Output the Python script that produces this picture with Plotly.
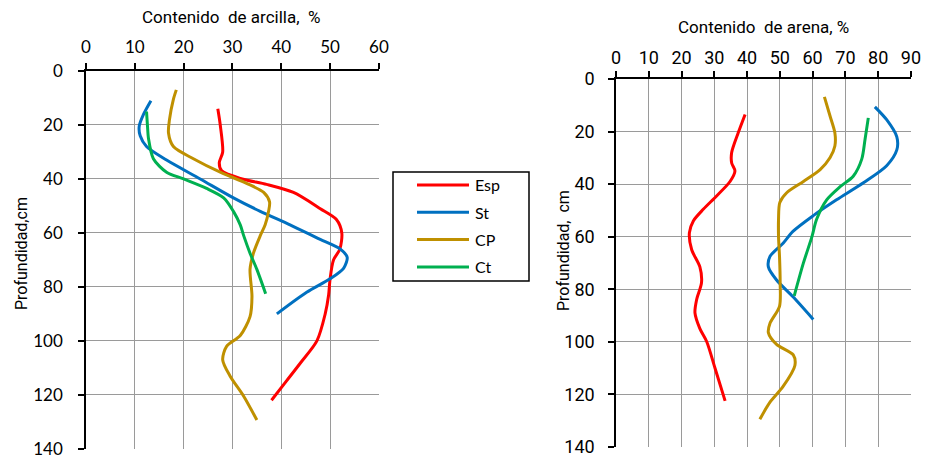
import plotly.graph_objects as go

# ---- Contenido de arcilla (%) vs profundidad (cm) ----
arc_esp_depth = [14, 20, 30, 34, 37, 40, 42, 45, 51, 55, 60, 66, 70, 77, 83, 90, 100, 108, 115, 122]
arc_esp_val = [27, 27.5, 28, 27.3, 27.8, 32, 37, 42.5, 48, 51.3, 52.4, 52, 50.7, 50, 49.7, 49, 47.3, 44, 41, 38]

arc_st_depth = [11, 16, 20.5, 24, 28, 33, 40, 47, 52, 57, 62, 66, 69, 73, 77, 82, 90]
arc_st_val = [13.3, 11.8, 10.9, 11.1, 12.4, 16.5, 23.4, 30.2, 35.7, 41.8, 47.5, 52.1, 53.5, 52.8, 50, 45.2, 39.1]

arc_cp_depth = [7, 10.5, 18, 23, 28, 32.5, 37.5, 41.7, 45, 48.5, 52, 57, 61, 67.5, 73.5, 83.5, 91, 98, 102, 107, 113, 120.5, 129.3]
arc_cp_val = [18.5, 17.9, 17.1, 16.9, 17.9, 22, 27.5, 33, 36.4, 37.6, 37.4, 36.7, 35.7, 34.3, 33.6, 34, 33.6, 31.6, 28.8, 28, 29.5, 32.3, 35]

arc_ct_depth = [15, 20.5, 25, 32.5, 37.5, 40, 43.5, 47, 52, 57, 61, 67.5, 73.5, 82.5]
arc_ct_val = [12.4, 12.6, 12.8, 13.8, 16.5, 20, 24.7, 28.2, 30.2, 31.6, 32.3, 33.6, 35, 36.8]

# ---- Contenido de arena (%) vs profundidad (cm) ----
are_esp_depth = [13.5, 20.5, 28, 32, 35, 39, 44.5, 49.5, 54, 58.5, 65, 71.5, 77.5, 84, 89, 95, 100, 110, 122.5]
are_esp_val = [39.4, 37.3, 35.3, 35.3, 36.3, 34.8, 30.7, 26.7, 23.6, 22.4, 23.1, 25.6, 26.1, 24.6, 24.1, 25.6, 27.7, 30.2, 33.3]

are_st_depth = [10.6, 15.5, 22, 27, 33, 39.5, 46, 52, 58, 62.5, 67.5, 71.5, 76.5, 83, 91.5]
are_st_val = [79, 82.6, 85.7, 85.7, 82.6, 75.5, 67.3, 60.2, 54, 51, 47, 46.5, 49, 54.1, 60.2]

are_cp_depth = [6.8, 14, 20.5, 25.5, 30, 34.5, 39, 43.3, 47, 53.5, 60, 67.5, 77.5, 86.5, 93, 96.5, 101, 105, 109, 117, 123, 129.5]
are_cp_val = [63.6, 65.3, 66.8, 66.8, 65.3, 62.3, 57.2, 52.1, 50, 49.6, 49.6, 49.9, 50.1, 49.9, 47, 46.5, 49, 54.1, 54.6, 51, 47, 43.9]

are_ct_depth = [14.8, 23, 30.5, 37, 41, 46, 53.5, 60, 70, 82.5]
are_ct_val = [77, 76, 75, 72.4, 68.4, 64.3, 61.2, 59.8, 57.2, 54.4]

series_names = ["Esp", "St", "CP", "Ct"]
colors = {"Esp": "#FF0000", "St": "#0070C0", "CP": "#BF9000", "Ct": "#00B050"}

arcilla = {
    "Esp": (arc_esp_val, arc_esp_depth),
    "St": (arc_st_val, arc_st_depth),
    "CP": (arc_cp_val, arc_cp_depth),
    "Ct": (arc_ct_val, arc_ct_depth),
}
arena = {
    "Esp": (are_esp_val, are_esp_depth),
    "St": (are_st_val, are_st_depth),
    "CP": (are_cp_val, are_cp_depth),
    "Ct": (are_ct_val, are_ct_depth),
}

W, H = 927, 462
fig = go.Figure()

for name in series_names:
    x, y = arcilla[name]
    fig.add_trace(go.Scatter(
        x=x, y=y, mode="lines", name=name, legendgroup=name,
        line=dict(color=colors[name], width=3, shape="spline", smoothing=0.8),
        xaxis="x", yaxis="y", showlegend=False,
    ))
for name in series_names:
    x, y = arena[name]
    fig.add_trace(go.Scatter(
        x=x, y=y, mode="lines", name=name, legendgroup=name,
        line=dict(color=colors[name], width=3, shape="spline", smoothing=0.8),
        xaxis="x2", yaxis="y2", showlegend=False,
    ))

LATO = "Lato"
NARROW = "Roboto"
GRID = "#9A9A9A"

def px_x(a, b):
    return [a / W, b / W]

def px_y(top, bottom):
    return [1 - bottom / H, 1 - top / H]

common_x = dict(
    side="top", dtick=10, tick0=0, showline=True, linecolor="black", linewidth=1.5,
    ticks="outside", ticklen=6, tickwidth=1.5, tickcolor="black",
    showgrid=True, gridcolor=GRID, gridwidth=1.3, zeroline=False, automargin=False,
)
common_y = dict(
    autorange=False, dtick=20, tick0=0, showline=True, linecolor="black", linewidth=1.5,
    ticks="outside", ticklen=6, tickwidth=1.5, tickcolor="black",
    showgrid=True, gridcolor=GRID, gridwidth=1.3, zeroline=False, automargin=False,
)

# Legend box placed between the two panels (pixel layout -> paper fractions)
LEG_LEFT, LEG_RIGHT, LEG_TOP, LEG_BOTTOM = 393, 529, 172, 281
LEG_LINE_X0, LEG_LINE_X1, LEG_TEXT_X = 417, 469, 473
LEG_ROW0, LEG_ROW_STEP = 185, 27.3

shapes = [dict(
    type="rect", xref="paper", yref="paper",
    x0=LEG_LEFT / W, x1=LEG_RIGHT / W, y0=1 - LEG_BOTTOM / H, y1=1 - LEG_TOP / H,
    line=dict(color="black", width=1.5), fillcolor="white", layer="above",
)]
legend_texts = []
for i, name in enumerate(series_names):
    yy = 1 - (LEG_ROW0 + i * LEG_ROW_STEP) / H
    shapes.append(dict(
        type="line", xref="paper", yref="paper",
        x0=LEG_LINE_X0 / W, x1=LEG_LINE_X1 / W, y0=yy, y1=yy,
        line=dict(color=colors[name], width=3), layer="above",
    ))
    legend_texts.append(dict(
        text=name, x=LEG_TEXT_X / W, y=yy, xref="paper", yref="paper",
        showarrow=False, xanchor="left", yanchor="middle",
        font=dict(family=LATO, size=16, color="black"),
    ))

fig.update_layout(
    template="none",
    width=W, height=H,
    margin=dict(l=0, r=0, t=0, b=0, autoexpand=False),
    paper_bgcolor="white", plot_bgcolor="white",
    showlegend=False,
    # ranges run a hair past the last tick so the outer grid lines are drawn
    xaxis=dict(common_x, range=[0, 60.02], domain=px_x(86, 379), anchor="y",
               tickfont=dict(family=LATO, size=17, color="black"), ticklabelstandoff=3),
    yaxis=dict(common_y, range=[140.05, 0], domain=px_y(71, 449), anchor="x",
               tickfont=dict(family=LATO, size=17, color="black"), ticklabelstandoff=12),
    xaxis2=dict(common_x, range=[0, 90.03], domain=px_x(616, 911), anchor="y2",
                tickfont=dict(family=NARROW, size=18, color="black"), ticklabelstandoff=0),
    yaxis2=dict(common_y, range=[140.05, 0], domain=px_y(79, 447), anchor="x2",
                tickfont=dict(family=NARROW, size=18, color="black"), ticklabelstandoff=10),
    shapes=shapes,
    annotations=[
        dict(text="Contenido  de arcilla,  %", x=231 / W, y=1 - 17 / H, xref="paper", yref="paper",
             showarrow=False, xanchor="center", yanchor="middle",
             font=dict(family=NARROW, size=17, color="black")),
        dict(text="Contenido  de arena, %", x=763 / W, y=1 - 27 / H, xref="paper", yref="paper",
             showarrow=False, xanchor="center", yanchor="middle",
             font=dict(family=NARROW, size=17, color="black")),
        dict(text="Profundidad,cm", x=21 / W, y=1 - 254 / H, xref="paper", yref="paper",
             showarrow=False, xanchor="center", yanchor="middle", textangle=-90,
             font=dict(family=NARROW, size=16, color="black")),
        dict(text="Profundidad,  cm", x=563 / W, y=1 - 251 / H, xref="paper", yref="paper",
             showarrow=False, xanchor="center", yanchor="middle", textangle=-90,
             font=dict(family=NARROW, size=16, color="black")),
    ] + legend_texts,
)

fig.write_html("out.html")
